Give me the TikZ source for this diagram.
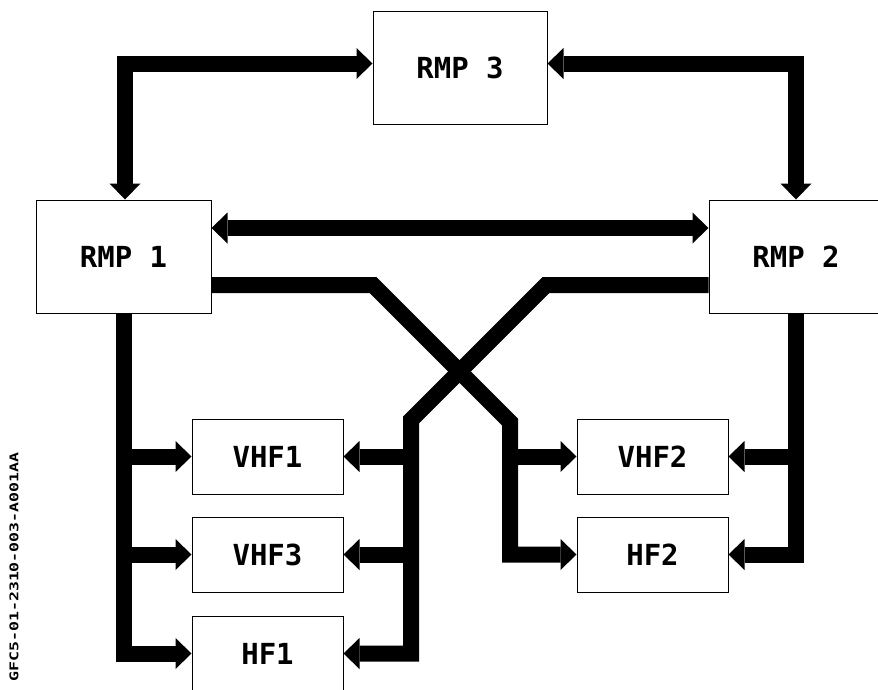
\documentclass[tikz,border=0pt]{standalone}
\usepackage{fontspec}
\setmonofont{DejaVu Sans Mono}
\usetikzlibrary{arrows.meta}
\begin{document}
\begin{tikzpicture}[x=1pt,y=-1pt,
  bigbox/.style={draw=black, line width=1pt, fill=white, inner sep=0pt,
    minimum width=174pt, minimum height=113pt,
    font=\ttfamily\bfseries\fontsize{29}{29}\selectfont},
  smallbox/.style={bigbox, minimum width=151pt, minimum height=75pt},
  bus/.style={line width=16pt, line join=miter, line cap=butt},
  >={Triangle[width=31pt,length=16pt,line width=0pt]}]
\useasboundingbox[fill=white] (0,0) rectangle (878,689);

\node[bigbox] (rmp3) at (460,67.5) {RMP 3};
\node[bigbox, minimum width=175pt] (rmp1) at (123.5,256.5) {RMP 1};
\node[bigbox] (rmp2) at (796,256.5) {RMP 2};
\node[smallbox] (vhf1) at (267.5,456.5) {VHF1};
\node[smallbox] (vhf3) at (267.5,554.5) {VHF3};
\node[smallbox] (hf1) at (267.5,653.5) {HF1};
\node[smallbox] (vhf2) at (652.5,456.5) {VHF2};
\node[smallbox] (hf2) at (652.5,554.5) {HF2};

\coordinate (c1a) at (373,285);
\coordinate (c1b) at (510,422);
\coordinate (c2a) at (546,285);
\coordinate (c2b) at (411,420);

% RMP3 links
\draw[bus,<->] ([yshift=4pt]rmp3.west) -| ([xshift=1.5pt]rmp1.north);
\draw[bus,<->] ([yshift=4pt]rmp3.east) -| (rmp2.north);
% RMP1 - RMP2
\draw[bus,<->] ([yshift=28.5pt]rmp1.east) -- ([yshift=28.5pt]rmp2.west);
% crossing links
\draw[bus,->] ([yshift=-28.5pt]rmp1.east) -- (c1a) -- (c1b) |- (hf2.west);
\draw[bus,->] (c1b |- vhf2.west) -- (vhf2.west);
\draw[bus,->] ([yshift=-28.5pt]rmp2.west) -- (c2a) -- (c2b) |- (hf1.east);
\draw[bus,->] (c2b |- vhf1.east) -- (vhf1.east);
\draw[bus,->] (c2b |- vhf3.east) -- (vhf3.east);
% RMP1 down bus
\draw[bus,->] ([xshift=0.5pt]rmp1.south) |- (hf1.west);
\draw[bus,->] ([xshift=0.5pt]rmp1.south |- vhf1.west) -- (vhf1.west);
\draw[bus,->] ([xshift=0.5pt]rmp1.south |- vhf3.west) -- (vhf3.west);
% RMP2 down bus
\draw[bus,->] (rmp2.south) |- (hf2.east);
\draw[bus,->] (rmp2.south |- vhf2.east) -- (vhf2.east);

\node[rotate=90, inner sep=0pt, font=\ttfamily\bfseries\fontsize{12}{12}\selectfont] (code) at (14,567)
  {\scalebox{1.38}[1]{GFC5-01-2310-003-A001AA}};
\end{tikzpicture}
\end{document}
